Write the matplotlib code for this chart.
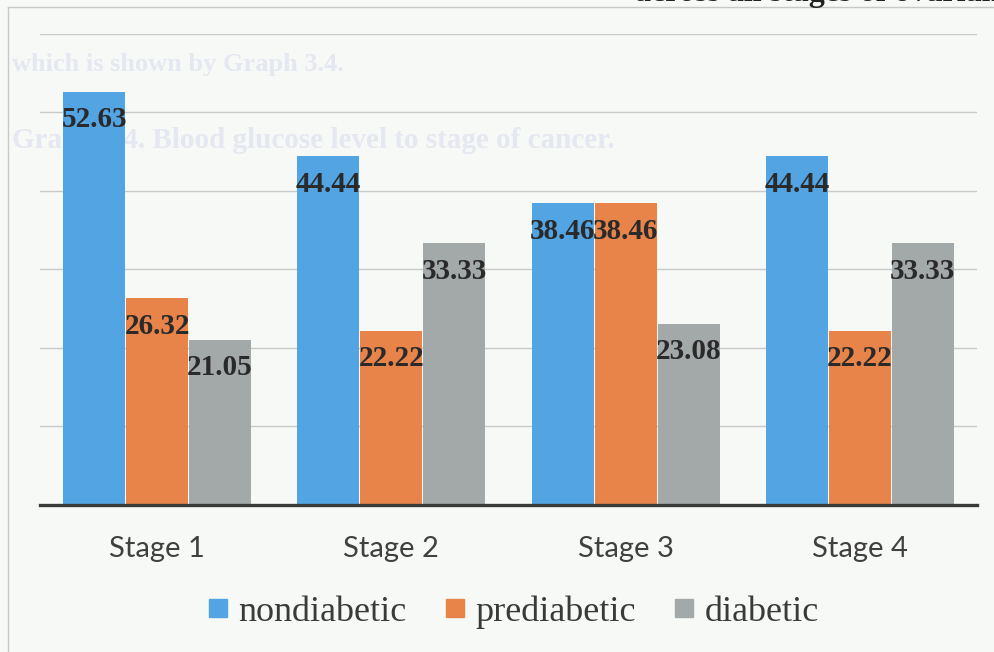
import matplotlib
matplotlib.use("Agg")
import matplotlib.pyplot as plt
from matplotlib.lines import Line2D
import numpy as np

# Datos del gráfico: porcentaje por estadio y grupo glucémico
stages = ["Stage 1", "Stage 2", "Stage 3", "Stage 4"]
groups = ["nondiabetic", "prediabetic", "diabetic"]
nondiabetic = [52.63, 44.44, 38.46, 44.44]
prediabetic = [26.32, 22.22, 38.46, 22.22]
diabetic = [21.05, 33.33, 23.08, 33.33]
colors = ["#52A4E2", "#E8844A", "#A3A9A9"]

bg = "#F7F9F6"
fig = plt.figure(figsize=(9.95, 6.52), dpi=100, facecolor=bg)
ax = fig.add_axes([0.0402, 0.2255, 0.9417, 0.7224])
ax.set_facecolor("none")

# texto tenue de la página de fondo, por detrás de las barras
ghost = dict(color="#E5E7F1", fontfamily="Liberation Serif", fontweight="bold",
             zorder=0.5, transform=fig.transFigure, clip_on=False, va="center")
ax.text(12 / 995, 1 - 65 / 652, "which is shown by Graph 3.4.", fontsize=19, **ghost)
ax.text(12 / 995, 1 - 140 / 652, "Graph 3.4. Blood glucose level to stage of cancer.",
        fontsize=21, **ghost)

# línea de texto superior cortada
fig.text(635 / 995, 1 - 1 / 652, "across all stages of ovarian", fontsize=23,
         fontfamily="Liberation Serif", fontweight="bold", color="#222222", va="baseline")

# borde del gráfico
fig.add_artist(Line2D([8 / 995, 8 / 995], [0, 1 - 7 / 652], transform=fig.transFigure,
                      color="#C8C8C8", lw=1))
fig.add_artist(Line2D([8 / 995, 1], [1 - 7 / 652, 1 - 7 / 652], transform=fig.transFigure,
                      color="#C8C8C8", lw=1))

x = np.arange(len(stages))
w = 0.2687
series = [nondiabetic, prediabetic, diabetic]
for i, (vals, c) in enumerate(zip(series, colors)):
    pos = x + (i - 1) * w
    ax.bar(pos, vals, width=w * 0.985, color=c, zorder=2)
    for px, v in zip(pos, vals):
        ax.annotate(f"{v:.2f}", (px, v), xytext=(0, -28), textcoords="offset pixels",
                    ha="center", va="center", fontsize=21, fontweight="bold",
                    fontfamily="Liberation Serif", color="#2A2A2A", zorder=3)

ax.set_xlim(-0.5, 3.5)
ax.set_ylim(0, 60)
ax.set_yticks(np.arange(10, 61, 10))
ax.yaxis.grid(True, color="#C9C9C9", lw=1, zorder=1)
ax.tick_params(axis="y", left=False, labelleft=False)
ax.tick_params(axis="x", length=0, pad=22, labelsize=21, labelcolor="#404040")
ax.set_xticks(x)
ax.set_xticklabels(stages, fontfamily="Lato")
for s in ["top", "right", "left"]:
    ax.spines[s].set_visible(False)
ax.spines["bottom"].set_color("#3A3A3A")
ax.spines["bottom"].set_linewidth(2.4)
ax.spines["bottom"].set_zorder(4)

handles = [Line2D([], [], marker="s", ls="", markersize=12.5, color=c) for c in colors]
fig.legend(handles, groups, loc="center", bbox_to_anchor=(514 / 995, 1 - 612 / 652),
           ncol=3, frameon=False, handlelength=0.5, handletextpad=0.3,
           columnspacing=1.1, prop={"family": "Liberation Serif", "size": 26},
           labelcolor="#3A3A3A")

fig.savefig("out.png", dpi=100, facecolor=bg)
